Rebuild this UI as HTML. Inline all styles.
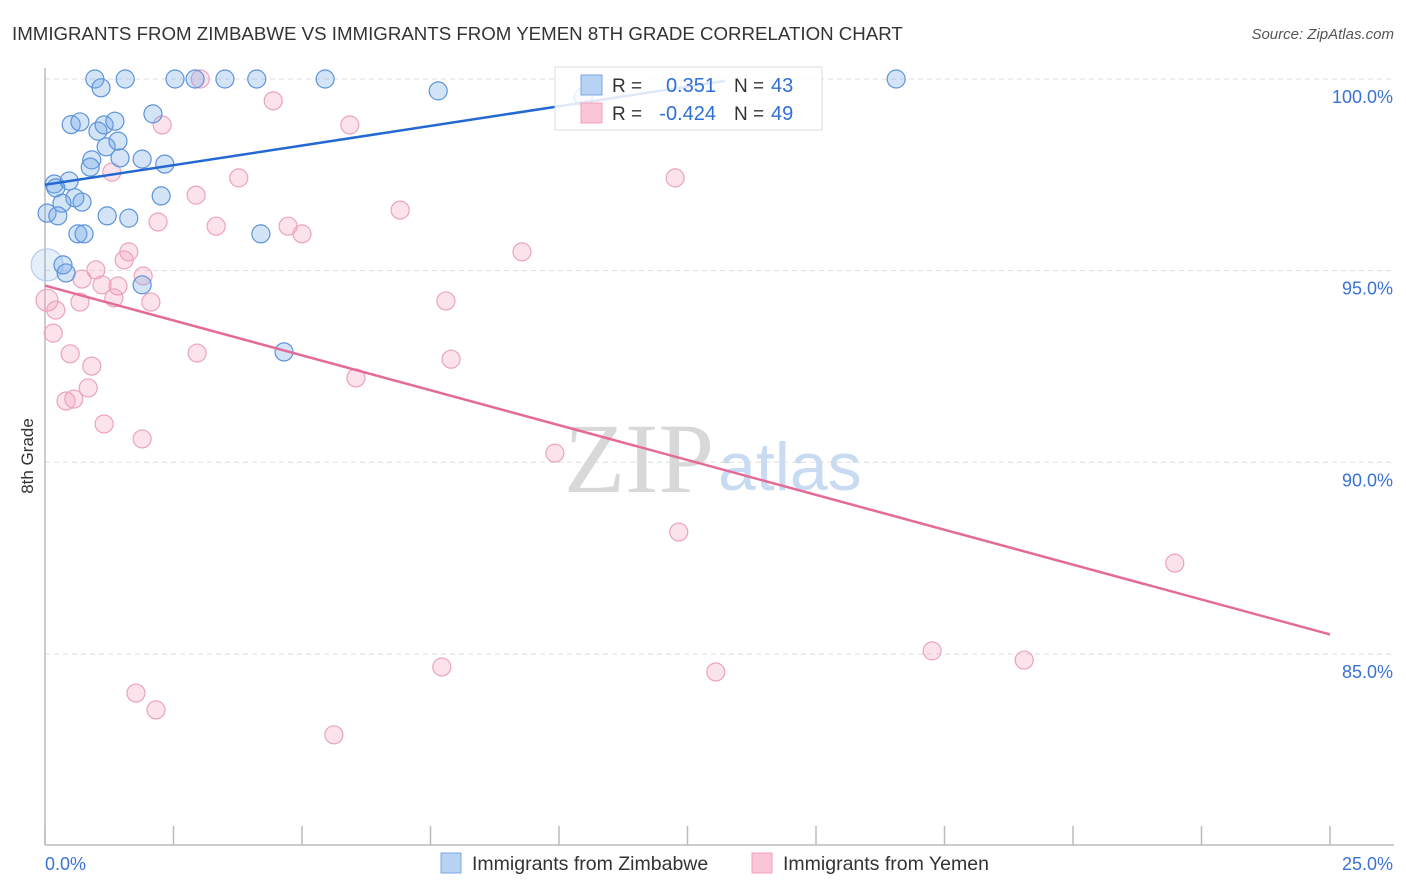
<!DOCTYPE html>
<html><head><meta charset="utf-8"><style>
body{margin:0;background:#fff;font-family:"Liberation Sans",sans-serif;}
#wrap{position:relative;width:1406px;height:892px;overflow:hidden;}
</style></head><body>
<div id="wrap">
<svg id="svg" width="1406" height="892" xmlns="http://www.w3.org/2000/svg">
<text x="12" y="40" font-size="18.7" fill="#333">IMMIGRANTS FROM ZIMBABWE VS IMMIGRANTS FROM YEMEN 8TH GRADE CORRELATION CHART</text>
<text x="1394" y="39" font-size="15" fill="#555" text-anchor="end" font-style="italic">Source: ZipAtlas.com</text>
<text x="33" y="456" font-size="17" fill="#333" text-anchor="middle" transform="rotate(-90 33 456)">8th Grade</text>
<text x="714" y="492" font-size="100" fill="#d8d8d8" text-anchor="end" font-family="Liberation Serif,serif">ZIP</text>
<text x="718" y="490" font-size="68" fill="#c9dbf2">atlas</text>
<g id="grid"></g><g id="axes"></g><g id="pts"></g><g id="lines"></g>
<g>
<rect x="555" y="67" width="267" height="63" fill="#fff" fill-opacity="0.85" stroke="#ddd"/>
<rect x="581" y="75" width="21" height="20" fill="#b8d2f4" stroke="#7aa7e6"/>
<rect x="581" y="103" width="21" height="20" fill="#fac5d6" stroke="#f0a0bc"/>
<text x="612" y="92" font-size="19" fill="#333">R = </text><text x="716" y="92" font-size="20" fill="#2f6fd4" text-anchor="end">0.351</text>
<text x="734" y="92" font-size="19" fill="#333">N = </text><text x="771" y="92" font-size="20" fill="#2f6fd4">43</text>
<text x="612" y="120" font-size="19" fill="#333">R = </text><text x="716" y="120" font-size="20" fill="#2f6fd4" text-anchor="end">-0.424</text>
<text x="734" y="120" font-size="19" fill="#333">N = </text><text x="771" y="120" font-size="20" fill="#2f6fd4">49</text>
</g>
<g>
<rect x="441" y="853" width="20" height="20" fill="#b8d2f4" stroke="#7aa7e6"/>
<text x="472" y="870" font-size="19.5" fill="#333">Immigrants from Zimbabwe</text>
<rect x="752" y="853" width="20" height="20" fill="#fac5d6" stroke="#f0a0bc"/>
<text x="783" y="870" font-size="19.5" fill="#333">Immigrants from Yemen</text>
</g>
</svg>
</div>
<script>
const yTicks=[100,95,90,85];
const yTickLabels=["100.0%","95.0%","90.0%","85.0%"];
const xTickCount=[0,2.5,5,7.5,10,12.5,15,17.5,20,22.5,25];
const xEndLabels=["0.0%","25.0%"];
const zimX=[0.97,1.56,2.53,2.92,3.5,4.12,5.45,7.65,16.56,1.09,0.51,0.68,1.03,1.15,1.36,2.1,1.19,1.42,1.46,1.89,2.33,0.91,0.88,0.18,0.21,0.47,0.58,0.33,0.72,2.26,0.04,0.25,1.21,1.63,0.64,0.76,4.2,0.04,0.35,0.41,1.89,4.65,10.47];
const zimY=[100,100,100,100,100,100,100,99.69,100,99.77,98.81,98.88,98.64,98.8,98.9,99.09,98.23,98.38,97.94,97.91,97.78,97.89,97.7,97.26,97.16,97.34,96.9,96.76,96.79,96.95,96.5,96.43,96.43,96.37,95.96,95.96,95.96,95.15,95.15,94.94,94.63,92.88,99.53];
const yemX=[3.02,4.44,2.28,5.93,1.3,3.77,2.94,12.26,6.91,2.2,3.33,4.73,5.0,9.28,1.63,1.54,0.99,1.91,0.72,1.11,1.42,1.34,0.68,2.06,7.8,0.04,0.21,0.16,0.49,2.96,0.91,7.9,6.05,0.84,0.41,0.56,1.15,1.89,9.92,12.33,21.98,17.26,19.05,7.72,13.05,1.77,2.16,5.62];
const yemY=[100,99.43,98.8,98.8,97.57,97.42,96.97,97.42,96.58,96.27,96.16,96.16,95.96,95.49,95.49,95.28,95.02,94.86,94.78,94.63,94.6,94.29,94.18,94.18,94.21,94.23,93.97,93.37,92.83,92.85,92.51,92.69,92.2,91.94,91.6,91.65,91.0,90.61,90.24,88.18,87.37,85.08,84.84,84.66,84.53,83.98,83.54,82.89];
const zimTrendX=[0,13.23], zimTrendY=[97.24,99.95];
const yemTrendX=[0,25], yemTrendY=[94.61,85.51];
const X=v=>45+v*51.4, Y=v=>79+(100-v)*38.33;
const NS="http://www.w3.org/2000/svg";
function mk(tag,attrs,parent){const e=document.createElementNS(NS,tag);for(const k in attrs)e.setAttribute(k,attrs[k]);document.getElementById(parent).appendChild(e);return e;}
yTicks.forEach((t,i)=>{
 const l=mk('line',{x1:45,x2:1394,y1:Y(t),y2:Y(t),stroke:'#ddd','stroke-dasharray':'5,4'},'grid');
 
 
 const tx=mk('text',{x:1393,y:Y(t)+24,'font-size':18,fill:'#3b73d4','text-anchor':'end'},'grid');
 tx.textContent=yTickLabels[i];
 
 
});
const ax=mk('line',{x1:45,x2:1394,y1:845,y2:845,stroke:'#bbb','stroke-width':1.5},'axes');


const ay=mk('line',{x1:45,x2:45,y1:68,y2:845,stroke:'#bbb','stroke-width':1.5},'axes');


xTickCount.forEach(t=>{const k=mk('line',{x1:X(t),x2:X(t),y1:826,y2:845,stroke:'#bbb','stroke-width':1.5},'axes');
 
 });
[[0,'start'],[25,'end']].forEach((p,i)=>{const t=mk('text',{x:i?1393:45,y:870,'font-size':18,fill:'#3b73d4','text-anchor':p[1]},'axes');t.textContent=xEndLabels[i];
 
 });
yemX.forEach((x,i)=>{const c=mk('circle',{cx:X(x),cy:Y(yemY[i]),r:x<0.1?11:9,fill:'rgba(245,160,190,0.3)',stroke:'#eba3bd','stroke-width':1.2},'pts');
 
 });
zimX.forEach((x,i)=>{const big=(x<0.1&&zimY[i]<95.5);const c=mk('circle',{cx:X(x),cy:Y(zimY[i]),r:big?16:9,fill:big?'rgba(110,165,230,0.18)':'rgba(110,165,230,0.3)',stroke:big?'#b5cdef':'#5d93db','stroke-width':1.2},'pts');
 
 });
const bl=mk('line',{x1:X(zimTrendX[0]),y1:Y(zimTrendY[0]),x2:X(zimTrendX[1]),y2:Y(zimTrendY[1]),stroke:'#2468d2','stroke-width':2.5},'lines');


const pl=mk('line',{x1:X(yemTrendX[0]),y1:Y(yemTrendY[0]),x2:X(yemTrendX[1]),y2:Y(yemTrendY[1]),stroke:'#e46a98','stroke-width':2.5},'lines');


</script>
</body></html>
